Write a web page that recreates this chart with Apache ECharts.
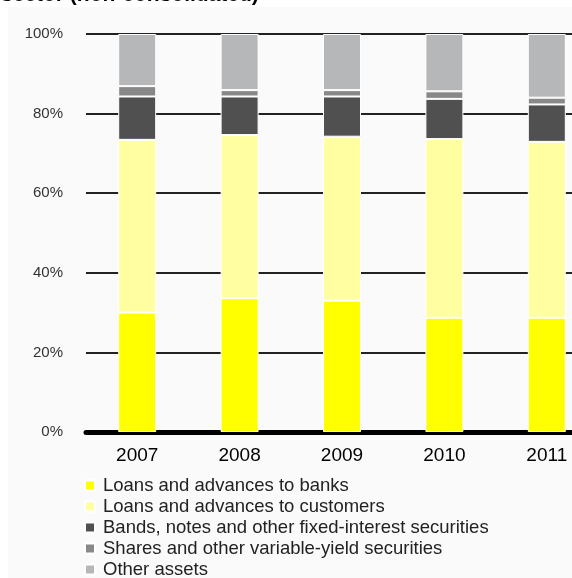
<!DOCTYPE html>
<html>
<head>
<meta charset="utf-8">
<style>
  html, body { margin: 0; padding: 0; background: #ffffff; }
  #chart { width: 572px; height: 578px; }
</style>
<script src="https://cdn.jsdelivr.net/npm/echarts@6/dist/echarts.min.js"></script>
</head>
<body>
<div id="chart"></div>
<script>
// Asset structure by year, shares in percent of total assets
const years = ['2007', '2008', '2009', '2010', '2011'];
const yTicks = ['0%', '20%', '40%', '60%', '80%', '100%'];

const loansBanks     = [30.0, 33.6, 33.0, 28.7, 28.7];
const loansCustomers = [43.4, 41.0, 41.2, 44.9, 44.2];
const bondsNotes     = [10.9,  9.7, 10.1, 10.1,  9.4];
const sharesVariable = [ 2.6,  1.6,  1.6,  1.9,  1.7];
const otherAssets    = [13.1, 14.1, 14.1, 14.4, 16.0];

const seriesNames = [
  'Loans and advances to banks',
  'Loans and advances to customers',
  'Bands, notes and other fixed-interest securities',
  'Shares and other variable-yield securities',
  'Other assets'
];
const seriesData = [loansBanks, loansCustomers, bondsNotes, sharesVariable, otherAssets];
const colors = ['#ffff00', '#ffffa2', '#505050', '#888888', '#b6b7b8'];

const chart = echarts.init(document.getElementById('chart'), null, { renderer: 'canvas' });

chart.setOption({
  animation: false,
  backgroundColor: '#ffffff',
  color: colors,
  graphic: [{
    type: 'rect',
    z: -10,
    silent: true,
    shape: { x: 8, y: 7, width: 564, height: 571 },
    style: { fill: '#fafafa' }
  }],
  title: {
    text: 'sector (non-consolidated)',
    left: -4,
    top: -20,
    textStyle: { fontFamily: 'Liberation Sans', fontWeight: 'bold', fontSize: 21, color: '#000' }
  },
  grid: { left: 86, top: 34, width: 512, height: 398, outerBoundsMode: 'none', containLabel: false },
  legend: {
    orient: 'vertical',
    left: 84,
    top: 476,
    height: 130,
    padding: 0,
    itemWidth: 10,
    itemHeight: 10,
    itemGap: 2,
    icon: 'rect',
    textStyle: { fontFamily: 'Liberation Sans', fontSize: 18.5, color: '#222', lineHeight: 17, padding: [0, 0, 0, 3] },
    data: seriesNames
  },
  xAxis: {
    type: 'category',
    data: years,
    axisTick: { show: false },
    axisLine: { lineStyle: { color: '#000', width: 5 } },
    axisLabel: { margin: 14, fontFamily: 'Liberation Sans', fontSize: 19, color: '#000' }
  },
  yAxis: {
    type: 'value',
    min: 0,
    max: 100,
    interval: 20,
    axisLine: { show: false },
    axisTick: { show: false },
    axisLabel: {
      margin: 23,
      fontFamily: 'Liberation Sans',
      fontSize: 15,
      color: '#333',
      formatter: (v) => yTicks[Math.round(v / 20)]
    },
    splitLine: { lineStyle: { color: '#222', width: 2 } }
  },
  series: seriesData.map((d, i) => ({
    name: seriesNames[i],
    type: 'bar',
    stack: 'total',
    data: d,
    barWidth: 38,
    itemStyle: { color: colors[i], borderColor: '#ffffff', borderWidth: 1 }
  }))
});
</script>
</body>
</html>
